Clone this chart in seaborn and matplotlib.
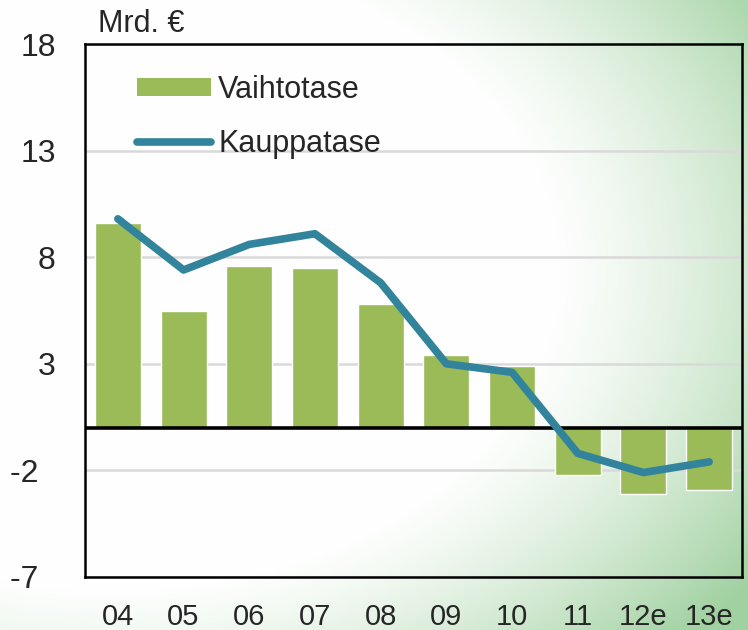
import numpy as np
import pandas as pd
import matplotlib
matplotlib.use('Agg')
import matplotlib.pyplot as plt
import seaborn as sns
from matplotlib.patches import Patch
from matplotlib.lines import Line2D

years = ['04', '05', '06', '07', '08', '09', '10', '11', '12e', '13e']
vaihtotase = [9.6, 5.5, 7.6, 7.5, 5.8, 3.4, 2.9, -2.2, -3.1, -2.9]
kauppatase = [9.8, 7.4, 8.6, 9.1, 6.8, 3.0, 2.6, -1.2, -2.1, -1.6]
y_ticks = [-7, -2, 3, 8, 13, 18]

BAR_COLOR = '#9bbb59'
LINE_COLOR = '#31849b'

sns.set_style('white')
plt.rcParams['font.family'] = ['Liberation Sans', 'DejaVu Sans']

df = pd.DataFrame({'year': years, 'Vaihtotase': vaihtotase, 'Kauppatase': kauppatase})

fig = plt.figure(figsize=(7.48, 6.3), dpi=100)

# soft green background, white in the middle
bg = fig.add_axes([0, 0, 1, 1], zorder=0)
u, v = np.meshgrid(np.linspace(0, 1, 400), np.linspace(1, 0, 340))
d = np.sqrt(((u - 0.15) / 1.0) ** 2 + ((v - 0.57) / 0.85) ** 2)
t = np.clip((d - 0.58) / 0.45, 0, 1) ** 1.3
green = np.array([0.63, 0.82, 0.63])
img = (1 - t)[..., None] * np.ones(3) + t[..., None] * green
img = img * 0.985 + np.array([0.93, 0.965, 0.93]) * 0.015
bg.imshow(img, extent=[0, 1, 0, 1], aspect='auto')
bg.axis('off')

ax = fig.add_axes([85 / 748, 53 / 630, 657 / 748, 533 / 630], zorder=1)
ax.patch.set_alpha(0)

sns.barplot(data=df, x='year', y='Vaihtotase', order=years, color=BAR_COLOR,
            saturation=1, width=0.7, ax=ax, zorder=2)
sns.pointplot(data=df, x='year', y='Kauppatase', order=years, color=LINE_COLOR,
              markers='', errorbar=None, linewidth=5.5, ax=ax, zorder=4)
for ln in ax.lines:
    ln.set_solid_capstyle('round')

ax.axhline(0, color='black', lw=2.6, zorder=3)

ax.set_ylim(-7, 18)
ax.set_yticks(y_ticks)
ax.set_yticklabels([f'{y}  ' if y < 0 else str(y) for y in y_ticks])
ax.set_xlabel('')
ax.set_ylabel('')
ax.grid(axis='y', color='#d9d9d9', lw=1.8)
ax.set_axisbelow(True)
for s in ax.spines.values():
    s.set_visible(True)
    s.set_color('black')
    s.set_linewidth(1.8)

ax.tick_params(axis='y', length=0, labelsize=23, pad=21)
ax.tick_params(axis='x', length=0, labelsize=21, pad=19)
for lab in ax.get_xticklabels():
    lab.set_family(['Liberation Sans Narrow', 'Liberation Sans'])

handles = [Patch(facecolor=BAR_COLOR, edgecolor='none', label='Vaihtotase'),
           Line2D([0], [0], color=LINE_COLOR, lw=5.5, solid_capstyle='round', label='Kauppatase')]
ax.legend(handles=handles, loc='upper left', bbox_to_anchor=(0.079, 0.942),
          frameon=False, fontsize=22, borderpad=0, borderaxespad=0,
          handlelength=2.43, handleheight=0.55, handletextpad=0.23, labelspacing=0.78)

fig.text(98 / 748, 1 - 32 / 630, 'Mrd. €', fontsize=22, va='baseline', ha='left')

fig.savefig('out.png', dpi=100)
